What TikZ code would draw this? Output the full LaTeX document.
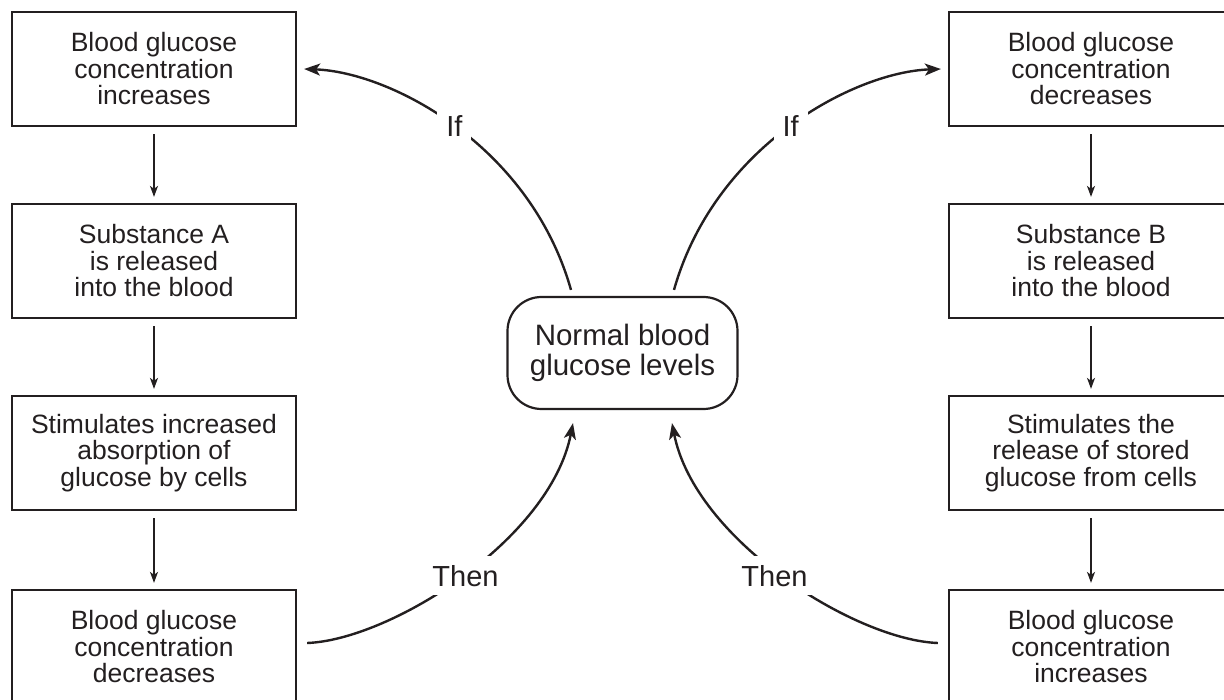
\documentclass[tikz,border=0pt]{standalone}
\usepackage{fontspec}
\setmainfont{Liberation Sans}
\usetikzlibrary{arrows.meta,calc}
\definecolor{ink}{HTML}{231F20}
\begin{document}
\begin{tikzpicture}[x=1pt,y=-1pt,
  box/.style={draw=ink, line width=2.2pt, minimum width=284pt, minimum height=114pt, align=center,
    font=\fontsize{26.5}{26.5}\selectfont, text=ink, inner sep=0pt},
  ctrbox/.style={draw=ink, line width=2.2pt, rounded corners=34pt, minimum width=230pt, minimum height=112pt,
    align=center, font=\fontsize{29.5}{30}\selectfont, text=ink, inner sep=0pt},
  vline/.style={draw=ink, line width=1.6pt, -{Stealth[length=11pt,width=8pt,inset=3pt]}, shorten <=7pt, shorten >=6pt},
  curvearr/.style={draw=ink, line width=2.4pt, -{Stealth[length=16pt,width=12pt,inset=4pt]}},
  lbl/.style={fill=white, font=\fontsize{29}{30}\selectfont, text=ink, inner sep=9pt}
]
\useasboundingbox (0,0) rectangle (1224,700);
\clip (0,0) rectangle (1224,700);

% left column
\node[box] (b1) at (154,69)  {Blood glucose\\concentration\\increases};
\node[box] (b2) at (154,261) {Substance A\\is released\\into the blood};
\node[box] (b3) at (154,453) {Stimulates increased\\absorption of\\glucose by cells};
\node[box] (b4) at (154,647) {Blood glucose\\concentration\\decreases};

% right column
\node[box] (r1) at (1091,69)  {Blood glucose\\concentration\\decreases};
\node[box] (r2) at (1091,261) {Substance B\\is released\\into the blood};
\node[box] (r3) at (1091,453) {Stimulates the\\release of stored\\glucose from cells};
\node[box] (r4) at (1091,647) {Blood glucose\\concentration\\increases};

% centre
\node[ctrbox] (ctr) at (622.5,353) {Normal blood\\glucose levels};

% vertical arrows
\draw[vline] (b1) -- (b2);
\draw[vline] (b2) -- (b3);
\draw[vline] (b3) -- (b4);
\draw[vline] (r1) -- (r2);
\draw[vline] (r2) -- (r3);
\draw[vline] (r3) -- (r4);

% curved arrows
\draw[curvearr] ([xshift=-51.5pt,yshift=6pt]ctr.north) .. controls (530,145) and (390,72) .. ([xshift=7pt]b1.east)
  node[lbl,pos=0.5] (lif1) {If};
\draw[curvearr] ([xshift=51.5pt,yshift=6pt]ctr.north) .. controls (715,145) and (855,72) .. ([xshift=-7pt]r1.west)
  node[lbl,pos=0.5] (lif2) {If};
\draw[curvearr] ([xshift=10pt,yshift=4pt]b4.east) .. controls (390,640) and (550,540) .. ([xshift=-49.5pt,yshift=-13pt]ctr.south)
  node[lbl,pos=0.5,xshift=3pt] (lthen1) {Then};
\draw[curvearr] ([xshift=-10pt,yshift=4pt]r4.west) .. controls (855,640) and (695,540) .. ([xshift=49.5pt,yshift=-13pt]ctr.south)
  node[lbl,pos=0.5,xshift=-8pt] (lthen2) {Then};
\end{tikzpicture}
\end{document}
